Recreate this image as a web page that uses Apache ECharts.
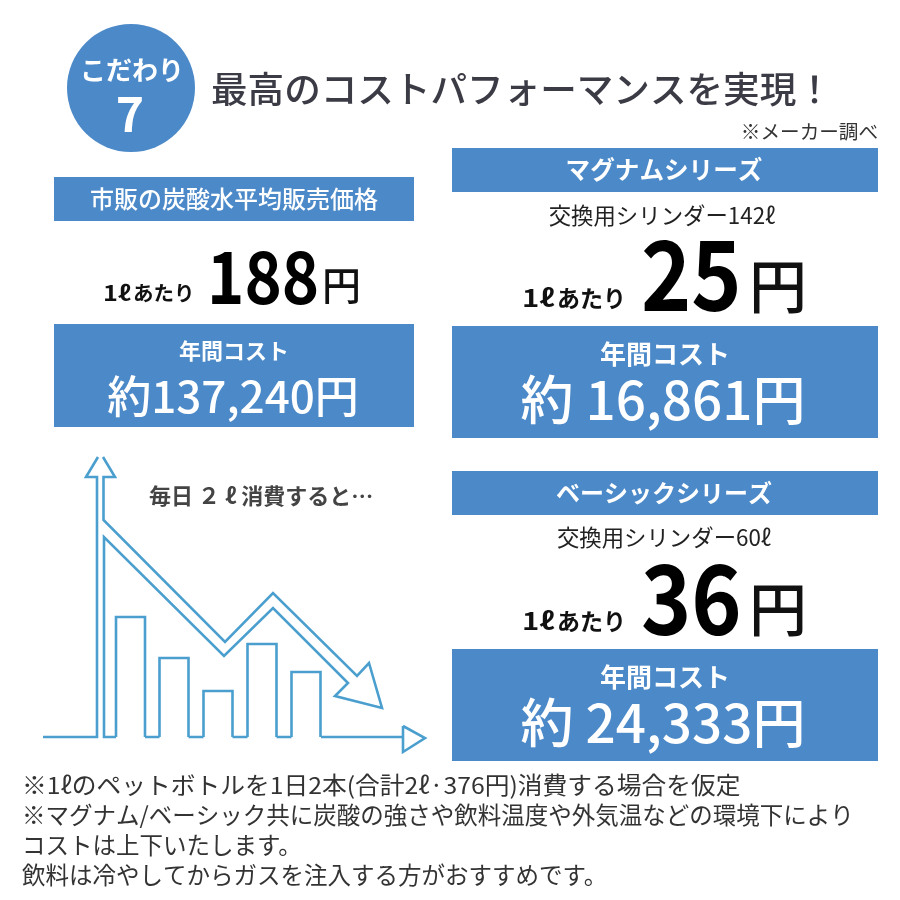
<!DOCTYPE html>
<html><head><meta charset="utf-8">
<style>html,body{margin:0;padding:0;background:#fff}#c{width:900px;height:900px}</style>
<script src="https://cdn.jsdelivr.net/npm/echarts@6/dist/echarts.min.js"></script>
</head><body><div id="c"></div>
<script>
const headline = '最高のコストパフォーマンスを実現！';
const badgeLabel = 'こだわり';
const badgeNumber = '7';
const sourceNote = '※メーカー調べ';
const productNames = ['市販の炭酸水平均販売価格', 'マグナムシリーズ', 'ベーシックシリーズ'];
const cylinderNotes = ['', '交換用シリンダー142ℓ', '交換用シリンダー60ℓ'];
const perLiterYen = ['188', '25', '36'];
const annualCost = ['約137,240円', '約 16,861円', '約 24,333円'];
const footnotes = [
  '※1ℓのペットボトルを1日2本(合計2ℓ·376円)消費する場合を仮定',
  '※マグナム/ベーシック共に炭酸の強さや飲料温度や外気温などの環境下により',
  'コストは上下いたします。',
  '飲料は冷やしてからガスを注入する方がおすすめです。'
];
const consumptionNote = '毎日 ２ ℓ 消費すると…';

// illustration, in axis units
const barCenters = [87.5, 131, 175, 219, 263];
const barValues = [120, 79, 46, 93, 65];
const axisUp = [[0,0],[54,0],[54,260],[43,260],[55,280]];
const trendArrow = [[60,280],[72,260],[60.5,260],[60.5,217],[182,95],[230,144],[314,61],[326,74],[339,29],[292,41],[305,54],[230,129],[181,81],[61,200],[61,0],[73,0]];
const axisRight = [[278,0],[360,0]];
const axisRightHead = [[360,11],[382,-1],[360,-15],[360,11]];
const groundGaps = [[[102,0],[116.5,0]],[[145.5,0],[160.5,0]],[[189.5,0],[204.5,0]],[[233.5,0],[248.5,0]]];

const FF = '"Noto Sans CJK JP","Noto Sans",sans-serif';
const BLUE = '#4b89c8';
const LINE = '#4b9fcf';
const DARK = '#3b3b45';

function txt(text, x, y, size, weight, fill, align, sx) {
  return {type:'text', x, y, scaleX:sx||1, silent:true, style:{text, fill,
    font: weight+' '+size+'px '+FF, textAlign:align||'center', textVerticalAlign:'middle',
    align:align||'center', verticalAlign:'middle'}};
}
function box(x,y,w,h){ return {type:'rect', shape:{x,y,width:w,height:h}, style:{fill:BLUE}, silent:true}; }

const g = [
  {type:'circle', shape:{cx:131,cy:88,r:64}, style:{fill:BLUE}},
  txt(badgeLabel,132,70,26,700,'#fff'),
  txt(badgeNumber,130,114,48,700,'#fff'),
  txt(headline,211,89,36.6,500,DARK,'left'),
  txt(sourceNote,878,132,19.6,400,'#333','right'),

  box(54,177,360,44), txt(productNames[0],234,199,24,500,'#fff'),
  txt('1ℓ',103,293,21,700,'#111','left',1.2),
  txt('あたり',133,293,20.5,700,'#111','left'),
  txt(perLiterYen[0],207,277,72,700,'#000','left',0.88),
  txt('円',322,285,39,500,'#111','left'),
  box(54,324,360,103), txt('年間コスト',234,351,22,700,'#fff'),
  txt(annualCost[0],233,396,44,500,'#fff'),

  box(452,148,426,44), txt(productNames[1],664,170,24.6,700,'#fff'),
  txt(cylinderNotes[1],662,215,22.4,400,'#222'),
  txt('1ℓ',522,298,24,700,'#111','left',1.22),
  txt('あたり',557,298,23,700,'#111','left'),
  txt(perLiterYen[1],641,274,97,700,'#000','left',0.88),
  txt('円',749,286,58,500,'#111','left'),
  box(452,326,426,112), txt('年間コスト',665,354,26,700,'#fff'),
  txt(annualCost[1],663,400,53,500,'#fff'),

  box(452,471,426,44), txt(productNames[2],664,493,24,700,'#fff'),
  txt(cylinderNotes[2],664,537,22.4,400,'#222'),
  txt('1ℓ',522,621,24,700,'#111','left',1.22),
  txt('あたり',557,621,23,700,'#111','left'),
  txt(perLiterYen[2],641,598,97,700,'#000','left',0.88),
  txt('円',749,609,58,500,'#111','left'),
  box(452,649,426,112), txt('年間コスト',665,677,26,700,'#fff'),
  txt(annualCost[2],663,723,53,500,'#fff'),

  txt(consumptionNote,149,496,22,700,'#444','left')
];
footnotes.forEach((t,i)=>g.push(txt(t,22,785+i*30,23.5,400,'#333','left', i===0?1.053:1)));

function lineSeries(data){
  return {type:'line', data, showSymbol:false, symbol:'none', clip:false, silent:true,
    lineStyle:{color:LINE,width:2.6,cap:'butt',join:'miter'}, z:3};
}

const chart = echarts.init(document.getElementById('c'), null, {renderer:'canvas'});
chart.setOption({
  animation:false,
  backgroundColor:'#fff',
  grid:{left:43,top:455,width:384,height:300,containLabel:false},
  xAxis:{type:'value',min:0,max:384,show:false},
  yAxis:{type:'value',min:-18,max:282,show:false},
  series:[
    lineSeries(axisUp), lineSeries(trendArrow), lineSeries(axisRight), lineSeries(axisRightHead),
    ...groundGaps.map(lineSeries),
    {type:'custom', silent:true, clip:false, z:3,
     data: barCenters.map((c,i)=>[c,barValues[i]]),
     encode:{x:0,y:1},
     renderItem(params,api){
       const x=api.value(0), v=api.value(1), half=api.size([29,0])[0]/2;
       const base=api.coord([x,0]), top=api.coord([x,v]);
       return {type:'polyline',
         shape:{points:[[base[0]-half,base[1]],[base[0]-half,top[1]],[base[0]+half,top[1]],[base[0]+half,base[1]]]},
         style:{stroke:LINE,lineWidth:2.6,fill:null,lineJoin:'miter'}};
     }}
  ],
  graphic:{elements:g}
});
</script></body></html>
